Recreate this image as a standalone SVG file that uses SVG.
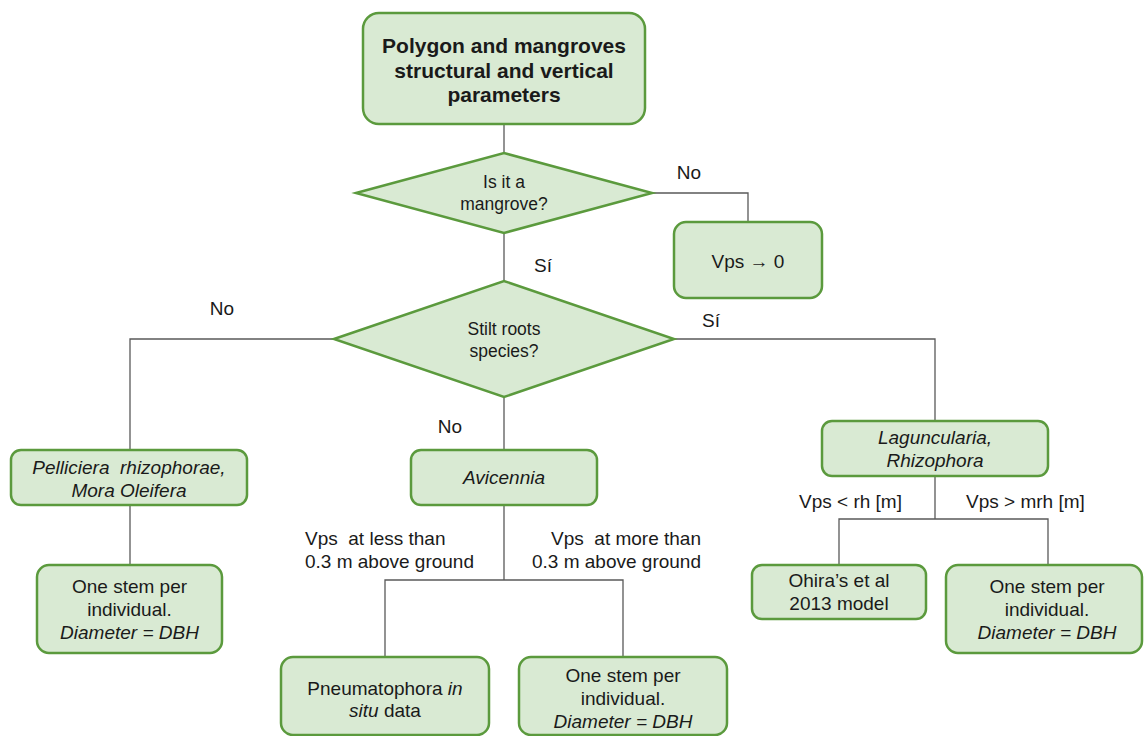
<svg xmlns="http://www.w3.org/2000/svg" width="1144" height="736" viewBox="0 0 1144 736">
  <style>
    .box { fill: #d9ead3; stroke: #5b9a3d; stroke-width: 2.5; }
    .wire { fill: none; stroke: #595959; stroke-width: 1.3; }
    text { font-family: "Liberation Sans", Arial, sans-serif; font-size: 19px; fill: #1a1a1a; }
    .c { text-anchor: middle; }
    .e { text-anchor: end; }
    .title { font-size: 21px; font-weight: bold; }
    .q { font-size: 17.5px; }
    .i { font-style: italic; }
  </style>
  <rect width="1144" height="736" fill="#ffffff"/>

  <!-- connectors -->
  <g id="connectors">
    <path class="wire" d="M504 124 V153"/>
    <path class="wire" d="M652 193 H748 V222"/>
    <path class="wire" d="M504 233 V281"/>
    <path class="wire" d="M334 339 H130 V450"/>
    <path class="wire" d="M674 339 H935 V421"/>
    <path class="wire" d="M504 397 V450"/>
    <path class="wire" d="M130 505 V565"/>
    <path class="wire" d="M504 505 V580 M385 657 V580 H623 V657"/>
    <path class="wire" d="M935 476 V519 M839 564 V519 H1048 V564"/>
  </g>

  <!-- branch labels -->
  <g id="labels">
    <text x="689" y="179" class="c">No</text>
    <text x="543" y="272" class="c">Sí</text>
    <text x="222" y="315" class="c">No</text>
    <text x="711" y="327" class="c">Sí</text>
    <text x="450" y="433" class="c">No</text>
    <text x="305" y="545" xml:space="preserve">Vps  at less than</text>
    <text x="305" y="568">0.3 m above ground</text>
    <text x="701" y="545" class="e" xml:space="preserve">Vps  at more than</text>
    <text x="701" y="568" class="e">0.3 m above ground</text>
    <text x="799" y="508">Vps &lt; rh [m]</text>
    <text x="966" y="508">Vps &gt; mrh [m]</text>
  </g>

  <g id="start">
    <rect class="box" x="363" y="13" width="282" height="111" rx="16"/>
    <text x="504" y="53" class="c title">Polygon and mangroves</text>
    <text x="504" y="78" class="c title">structural and vertical</text>
    <text x="504" y="102" class="c title">parameters</text>
  </g>

  <g id="is-mangrove">
    <polygon class="box" points="356,193 504,153 652,193 504,233"/>
    <text x="504" y="188" class="c q">Is it a</text>
    <text x="504" y="210" class="c q">mangrove?</text>
  </g>

  <g id="vps-zero">
    <rect class="box" x="674" y="222" width="148" height="76" rx="12"/>
    <text x="748" y="268" class="c">Vps → 0</text>
  </g>

  <g id="stilt-roots">
    <polygon class="box" points="334,339 504,281 674,339 504,397"/>
    <text x="504" y="335" class="c q">Stilt roots</text>
    <text x="504" y="357" class="c q">species?</text>
  </g>

  <g id="pelliciera">
    <rect class="box" x="11" y="450" width="236" height="55" rx="10"/>
    <text x="129" y="474" class="c i" xml:space="preserve">Pelliciera  rhizophorae,</text>
    <text x="129" y="497" class="c i">Mora Oleifera</text>
  </g>

  <g id="pelliciera-stem">
    <rect class="box" x="37" y="565" width="185" height="88" rx="12"/>
    <text x="129.5" y="593" class="c">One stem per</text>
    <text x="129.5" y="616" class="c">individual.</text>
    <text x="129.5" y="639" class="c i">Diameter = DBH</text>
  </g>

  <g id="avicennia">
    <rect class="box" x="411" y="450" width="186" height="55" rx="10"/>
    <text x="504" y="484" class="c i">Avicennia</text>
  </g>

  <g id="pneumatophora">
    <rect class="box" x="281" y="657" width="208" height="78" rx="12"/>
    <text x="385" y="695" class="c">Pneumatophora <tspan class="i">in</tspan></text>
    <text x="385" y="717" class="c"><tspan class="i">situ</tspan> data</text>
  </g>

  <g id="avicennia-stem">
    <rect class="box" x="519" y="657" width="208" height="78" rx="12"/>
    <text x="623" y="682" class="c">One stem per</text>
    <text x="623" y="705" class="c">individual.</text>
    <text x="623" y="728" class="c i">Diameter = DBH</text>
  </g>

  <g id="laguncularia">
    <rect class="box" x="822" y="421" width="226" height="55" rx="10"/>
    <text x="935" y="444" class="c i">Laguncularia,</text>
    <text x="935" y="467" class="c i">Rhizophora</text>
  </g>

  <g id="ohira">
    <rect class="box" x="752" y="565" width="174" height="54" rx="10"/>
    <text x="839" y="587" class="c">Ohira’s et al</text>
    <text x="839" y="610" class="c">2013 model</text>
  </g>

  <g id="rhizophora-stem">
    <rect class="box" x="946" y="565" width="196" height="88" rx="12"/>
    <text x="1047" y="593" class="c">One stem per</text>
    <text x="1047" y="616" class="c">individual.</text>
    <text x="1047" y="639" class="c i">Diameter = DBH</text>
  </g>
</svg>
